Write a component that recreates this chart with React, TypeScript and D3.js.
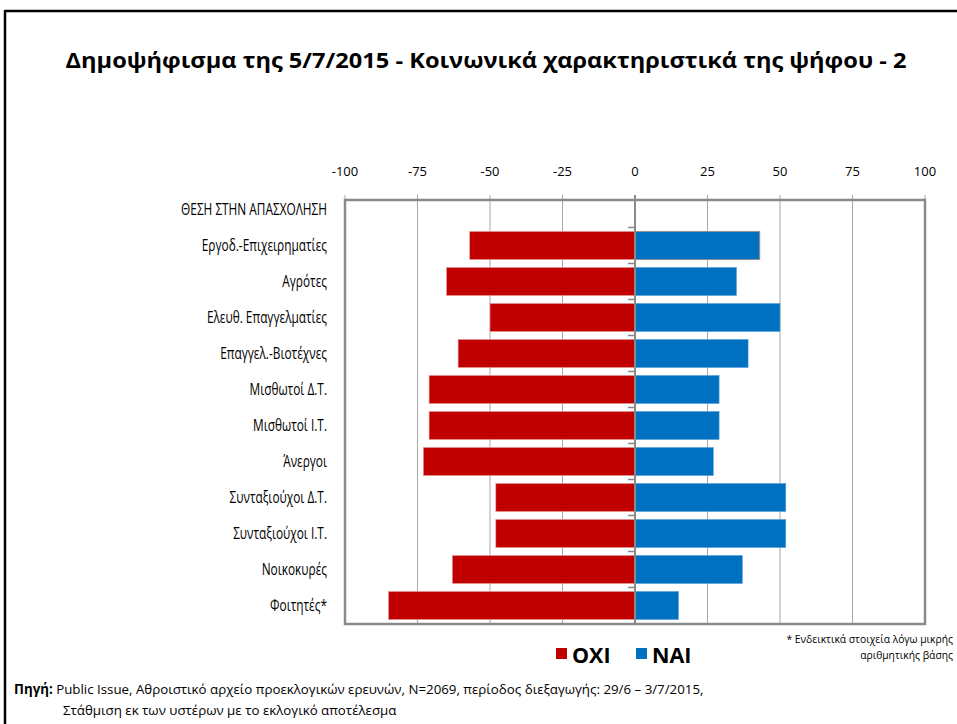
import React from "react";
import * as d3 from "d3";

const categories = [
  "ΘΕΣΗ ΣΤΗΝ ΑΠΑΣΧΟΛΗΣΗ",
  "Εργοδ.-Επιχειρηματίες",
  "Αγρότες",
  "Ελευθ. Επαγγελματίες",
  "Επαγγελ.-Βιοτέχνες",
  "Μισθωτοί Δ.Τ.",
  "Μισθωτοί Ι.Τ.",
  "Άνεργοι",
  "Συνταξιούχοι Δ.Τ.",
  "Συνταξιούχοι Ι.Τ.",
  "Νοικοκυρές",
  "Φοιτητές*",
];
const oxiValues: (number | null)[] = [null, -57, -65, -50, -61, -71, -71, -73, -48, -48, -63, -85];
const naiValues: (number | null)[] = [null, 43, 35, 50, 39, 29, 29, 27, 52, 52, 37, 15];
const xTicks = [-100, -75, -50, -25, 0, 25, 50, 75, 100];

const RED = "#C00000";
const BLUE = "#0070C0";
const FONT = "'Open Sans', 'Noto Sans', sans-serif";

export default function App() {
  const W = 957, H = 724;
  const plotLeft = 345, plotRight = 925, plotTop = 200, plotBottom = 624;
  const x = d3.scaleLinear().domain([-100, 100]).range([plotLeft, plotRight]);
  const y = d3.scaleBand<string>().domain(categories).range([191.5, 623.5]).paddingInner(0.22).paddingOuter(0.11);
  const step = y.step();
  const labelScaleX = 0.75;

  return (
    <svg width={W} height={H} style={{ position: "absolute", left: 0, top: 0, background: "#fff" }} fontFamily={FONT}>
      <rect x={0} y={0} width={W} height={H} fill="#fff" />
      {/* outer frame */}
      <line x1={5} x2={5} y1={10} y2={H} stroke="#000" strokeWidth={2.5} />
      <line x1={5} x2={W} y1={11} y2={11} stroke="#000" strokeWidth={2.5} />

      <text x={486} y={68} textAnchor="middle" fontSize={22} fontWeight="bold" fill="#000"
        textLength={841} lengthAdjust="spacingAndGlyphs">
        Δημοψήφισμα της 5/7/2015  - Κοινωνικά χαρακτηριστικά της ψήφου - 2
      </text>

      {/* gridlines */}
      {xTicks.map((t) => (
        <line key={"g" + t} x1={x(t)} x2={x(t)} y1={plotTop - 5} y2={plotBottom}
          stroke={t === 0 ? "#8a8a8a" : "#a6a6a6"} strokeWidth={t === 0 ? 2 : 1} />
      ))}
      {xTicks.map((t) => (
        <text key={"t" + t} x={x(t)} y={176} textAnchor="middle" fontSize={13} fill="#000">{t}</text>
      ))}

      {/* bars */}
      {categories.map((c, i) => {
        const o = oxiValues[i];
        const n = naiValues[i];
        const yy = y(c)!;
        return (
          <g key={c}>
            {o != null && (
              <rect x={x(o)} y={yy} width={x(0) - x(o)} height={y.bandwidth()} fill={RED} stroke="#e8a0a0" strokeWidth={0.6} />
            )}
            {n != null && (
              <rect x={x(0)} y={yy} width={x(n) - x(0)} height={y.bandwidth()} fill={BLUE} stroke={i === 1 ? "#909090" : "#5aa0dc"} strokeWidth={i === 1 ? 1 : 0.6} />
            )}
          </g>
        );
      })}

      {/* zero axis & category ticks */}
      <line x1={x(0)} x2={x(0)} y1={plotTop} y2={plotBottom} stroke="#8a8a8a" strokeWidth={2} />
      {categories.slice(1).map((c) => {
        const yb = y(c)! - (step - y.bandwidth()) / 2;
        return <line key={"ct" + c} x1={x(0) - 7} x2={x(0)} y1={yb} y2={yb} stroke="#8a8a8a" strokeWidth={1.5} />;
      })}

      {/* plot border */}
      <rect x={plotLeft} y={plotTop} width={plotRight - plotLeft} height={plotBottom - plotTop}
        fill="none" stroke="#8a8a8a" strokeWidth={2.5} />

      {/* category labels */}
      {categories.map((c) => (
        <g key={"l" + c} transform={`translate(327,${y(c)! + y.bandwidth() / 2}) scale(${labelScaleX},1)`}>
          <text x={0} y={0} dy="0.35em" textAnchor="end" fontSize={15.8} fill="#000">{c}</text>
        </g>
      ))}

      {/* legend */}
      <rect x={556} y={648} width={11} height={11} fill={RED} />
      <text x={572} y={663} fontSize={21.5} fontWeight="bold" fill="#000">ΟΧΙ</text>
      <rect x={636} y={648} width={11} height={11} fill={BLUE} />
      <text x={652} y={663} fontSize={21.5} fontWeight="bold" fill="#000">ΝΑΙ</text>

      {/* footnote */}
      <text x={953} y={643} textAnchor="end" fontSize={10.3} fill="#000">* Ενδεικτικά στοιχεία λόγω μικρής</text>
      <text x={953} y={659} textAnchor="end" fontSize={10.3} fill="#000">αριθμητικής βάσης</text>

      {/* source */}
      <text x={14} y={694} fontSize={13.3} fill="#000">
        <tspan fontWeight="bold">Πηγή:</tspan>
        <tspan> Public Issue, Αθροιστικό αρχείο προεκλογικών ερευνών, N=2069, περίοδος διεξαγωγής: 29/6 – 3/7/2015,</tspan>
      </text>
      <text x={63} y={715} fontSize={13.3} fill="#000">Στάθμιση εκ των υστέρων με το εκλογικό αποτέλεσμα</text>
    </svg>
  );
}
